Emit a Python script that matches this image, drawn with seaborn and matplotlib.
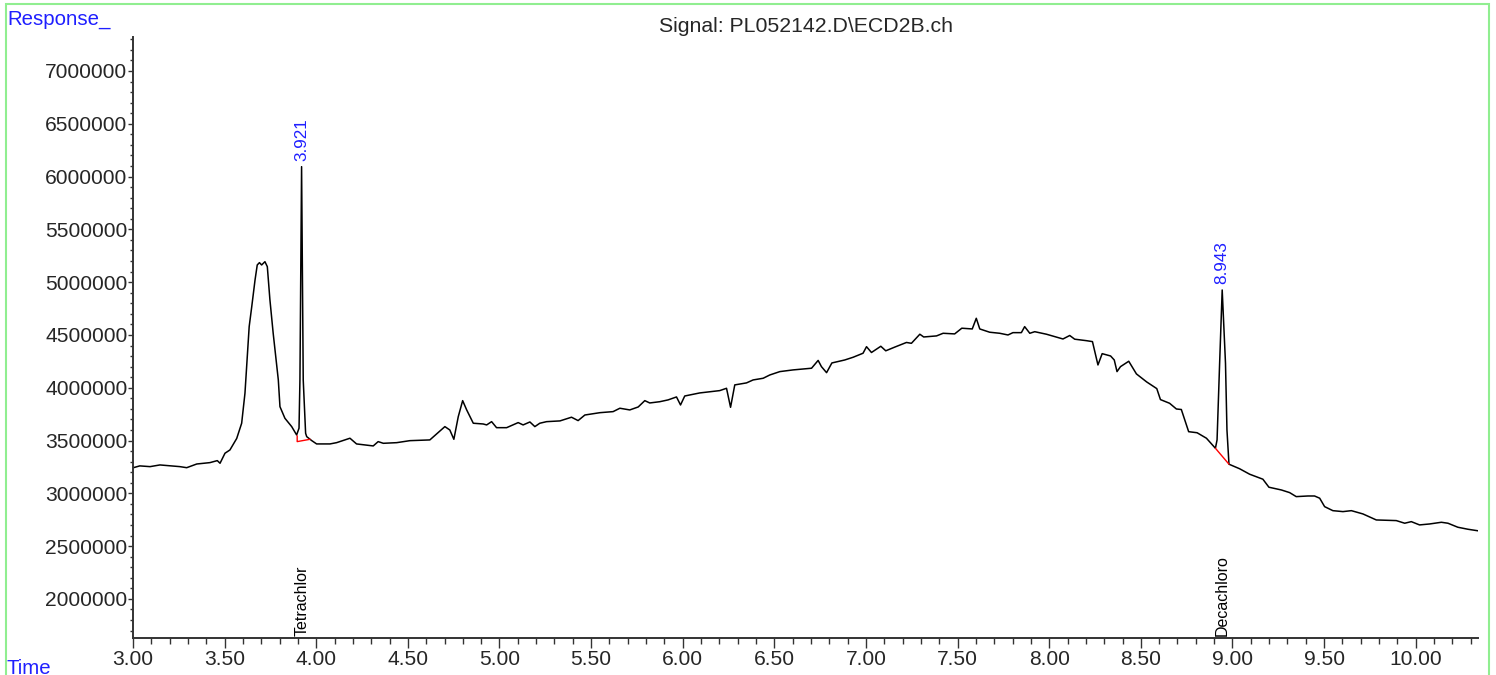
import matplotlib
matplotlib.use('Agg')
import matplotlib.pyplot as plt
import numpy as np
import seaborn as sns
from matplotlib.patches import Rectangle
from matplotlib.ticker import MultipleLocator, FormatStrFormatter

# chromatogram trace (time in min, detector response)
time_min = [
    3.002, 3.037, 3.093, 3.147, 3.256, 3.293, 3.348, 3.420, 3.460, 3.475,
    3.502, 3.529, 3.566, 3.593, 3.611, 3.634, 3.648, 3.666, 3.678, 3.690,
    3.702, 3.720, 3.733, 3.747, 3.765, 3.793, 3.802, 3.829, 3.866, 3.893,
    3.906, 3.911, 3.920, 3.929, 3.942, 3.948, 3.966, 3.975, 4.002, 4.075,
    4.111, 4.184, 4.220, 4.311, 4.338, 4.366, 4.439, 4.511, 4.620, 4.702,
    4.729, 4.751, 4.775, 4.799, 4.821, 4.857, 4.911, 4.930, 4.957, 4.984,
    5.039, 5.102, 5.129, 5.166, 5.193, 5.220, 5.257, 5.330, 5.393, 5.429,
    5.466, 5.548, 5.620, 5.657, 5.711, 5.757, 5.793, 5.820, 5.875, 5.920,
    5.966, 5.988, 6.011, 6.093, 6.202, 6.239, 6.261, 6.284, 6.348, 6.384,
    6.439, 6.475, 6.530, 6.602, 6.703, 6.739, 6.757, 6.785, 6.814, 6.884,
    6.930, 6.984, 7.003, 7.030, 7.081, 7.108, 7.157, 7.221, 7.248, 7.294,
    7.315, 7.385, 7.421, 7.484, 7.523, 7.580, 7.602, 7.621, 7.675, 7.730,
    7.775, 7.802, 7.848, 7.866, 7.894, 7.921, 7.985, 8.075, 8.112, 8.139,
    8.203, 8.236, 8.266, 8.289, 8.335, 8.355, 8.370, 8.389, 8.434, 8.476,
    8.532, 8.587, 8.607, 8.657, 8.694, 8.721, 8.761, 8.807, 8.858, 8.907,
    8.916, 8.930, 8.944, 8.962, 8.970, 8.981, 9.039, 9.094, 9.166, 9.199,
    9.267, 9.312, 9.348, 9.412, 9.448, 9.476, 9.503, 9.548, 9.603, 9.649,
    9.712, 9.785, 9.894, 9.940, 9.976, 10.021, 10.076, 10.140, 10.176, 10.230,
    10.285, 10.345,
]
response = [
    3243000, 3260000, 3253000, 3269000, 3253000, 3243000, 3278000, 3291000, 3310000, 3285000,
    3380000, 3411000, 3520000, 3664000, 3948000, 4579000, 4768000, 5021000, 5163000, 5185000,
    5163000, 5194000, 5147000, 4837000, 4516000, 4074000, 3821000, 3711000, 3632000, 3553000,
    3617000, 4074000, 6094000, 4074000, 3569000, 3537000, 3512000, 3500000, 3468000, 3468000,
    3480000, 3522000, 3468000, 3449000, 3490000, 3474000, 3480000, 3499000, 3506000, 3632000,
    3600000, 3512000, 3726000, 3878000, 3790000, 3664000, 3657000, 3648000, 3679000, 3622000,
    3622000, 3670000, 3648000, 3676000, 3632000, 3664000, 3679000, 3686000, 3721000, 3689000,
    3742000, 3764000, 3774000, 3806000, 3790000, 3818000, 3878000, 3856000, 3868000, 3885000,
    3913000, 3837000, 3922000, 3951000, 3973000, 3995000, 3815000, 4027000, 4046000, 4074000,
    4090000, 4121000, 4153000, 4169000, 4185000, 4259000, 4200000, 4143000, 4235000, 4263000,
    4289000, 4327000, 4389000, 4334000, 4393000, 4350000, 4385000, 4429000, 4421000, 4507000,
    4481000, 4491000, 4516000, 4510000, 4564000, 4557000, 4658000, 4557000, 4526000, 4516000,
    4500000, 4522000, 4522000, 4579000, 4516000, 4531000, 4507000, 4462000, 4495000, 4460000,
    4446000, 4437000, 4216000, 4323000, 4301000, 4263000, 4153000, 4200000, 4251000, 4131000,
    4055000, 3992000, 3888000, 3853000, 3799000, 3794000, 3584000, 3574000, 3522000, 3427000,
    3506000, 4232000, 4926000, 4232000, 3600000, 3276000, 3233000, 3181000, 3134000, 3058000,
    3032000, 3007000, 2969000, 2975000, 2975000, 2954000, 2874000, 2836000, 2827000, 2836000,
    2805000, 2748000, 2742000, 2717000, 2732000, 2701000, 2710000, 2726000, 2717000, 2679000,
    2660000, 2644000,
]

# integration baselines (red)
baseline1_time = [3.896, 3.896, 3.966]
baseline1_resp = [3545000, 3490000, 3512000]
baseline2_time = [8.907, 8.981]
baseline2_resp = [3427000, 3276000]

peak_rt = [3.921, 8.943]
peak_text = ['3.921', '8.943']
compounds = ['Tetrachlor', 'Decachloro']
signal_name = 'Signal: PL052142.D\\ECD2B.ch'

sns.set_style('ticks')
plt.rcParams['font.family'] = ['Liberation Sans', 'DejaVu Sans']

W, H = 1496, 675
fig = plt.figure(figsize=(W / 100, H / 100), dpi=100)
ax = fig.add_axes([133 / W, (H - 638) / H, (1478 - 133) / W, (638 - 37) / H])

sns.lineplot(x=time_min, y=response, ax=ax, color='black', linewidth=1.1,
             estimator=None, sort=False)
ax.plot(baseline1_time, baseline1_resp, color='red', lw=1.0)
ax.plot(baseline2_time, baseline2_resp, color='red', lw=1.0)

ax.set_xlim(3.0, 10.34)
ax.set_ylim(1630000, 7322000)

t = np.array(time_min)
r = np.array(response)
for rt, txt, name in zip(peak_rt, peak_text, compounds):
    top = r[np.abs(t - rt) < 0.03].max()
    ax.annotate(txt, xy=(rt, top), xytext=(0, 4), textcoords='offset points',
                rotation=90, ha='center', va='bottom', color='#1f1fff', fontsize=12.3)
    ax.annotate(name, xy=(rt, ax.get_ylim()[0]), xytext=(0, 1.5),
                textcoords='offset points', rotation=90, ha='center',
                va='bottom', color='black', fontsize=11.5)

ax.xaxis.set_major_locator(MultipleLocator(0.5))
ax.xaxis.set_minor_locator(MultipleLocator(0.1))
ax.xaxis.set_major_formatter(FormatStrFormatter('%.2f'))
ax.yaxis.set_major_locator(MultipleLocator(500000))
ax.yaxis.set_minor_locator(MultipleLocator(100000))
ax.yaxis.set_major_formatter(FormatStrFormatter('%d'))

ax.tick_params(axis='x', which='major', length=7.5, width=1.0, pad=1,
               labelsize=15.1, color='#333333')
ax.tick_params(axis='x', which='minor', length=4, width=1.0, color='#333333')
ax.tick_params(axis='y', which='major', length=3.6, width=1.0, pad=0.5,
               labelsize=15.1, color='#333333')
ax.tick_params(axis='y', which='minor', length=2, width=1.0, color='#333333')
ax.set_xlabel('')
ax.set_ylabel('')

sns.despine(ax=ax)
for side in ['left', 'bottom']:
    ax.spines[side].set_color('#333333')
    ax.spines[side].set_linewidth(1.4)

fig.text(806 / W, 1 - 32 / H, signal_name, ha='center', va='baseline', fontsize=15.3)
fig.text(7 / W, 1 - 25 / H, 'Response_', ha='left', va='baseline',
         fontsize=14.7, color='#1f1fff')
fig.text(7 / W, 0.002, 'Time', ha='left', va='baseline', fontsize=14.7,
         color='#1f1fff')

fig.add_artist(Rectangle((6 / W, -0.02), (1489 - 6) / W, 1.02 - 4 / H,
                         transform=fig.transFigure, fill=False,
                         edgecolor='#90ee90', linewidth=1.5, clip_on=False))

fig.savefig('out.png', dpi=100)
